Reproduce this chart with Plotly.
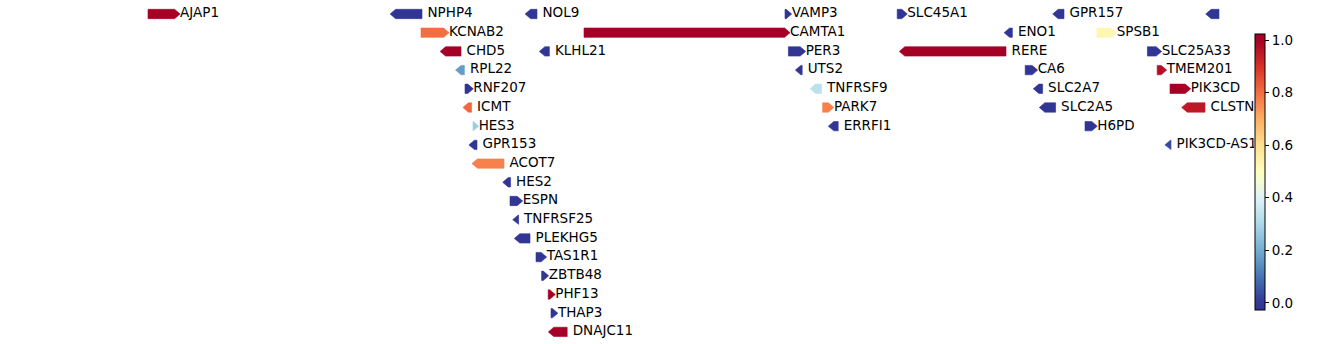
import numpy as np
import plotly.graph_objects as go
from plotly.colors import sample_colorscale

# ---- data (gene positions in kb, strand, track row, colour value) ----
genes = ["AJAP1", "NPHP4", "NOL9", "VAMP3", "SLC45A1", "GPR157", "CTNNBIP1",
         "KCNAB2", "CAMTA1", "ENO1", "SPSB1",
         "CHD5", "KLHL21", "PER3", "RERE", "SLC25A33",
         "RPL22", "UTS2", "CA6", "TMEM201",
         "RNF207", "TNFRSF9", "SLC2A7", "PIK3CD",
         "ICMT", "PARK7", "SLC2A5", "CLSTN1",
         "HES3", "ERRFI1", "H6PD",
         "GPR153", "PIK3CD-AS1",
         "ACOT7", "HES2", "ESPN", "TNFRSF25", "PLEKHG5", "TAS1R1",
         "ZBTB48", "PHF13", "THAP3", "DNAJC11"]
starts = [4654, 5892, 6567, 7839, 8400, 9205, 9970,
          6019, 6834, 8962, 9398,
          6142, 6638, 7856, 8438, 9651,
          6219, 7918, 9040, 9700,
          6239, 7992, 9108, 9764,
          6256, 8027, 9138, 9850,
          6279, 8083, 9339,
          6286, 9766,
          6301, 6455, 6464, 6505, 6513, 6594,
          6622, 6655, 6669, 6683]
ends = [4787, 6024, 6599, 7845, 8423, 9234, 10009,
        6132, 7837, 8976, 9470,
        6219, 6661, 7915, 8944, 9695,
        6236, 7925, 9075, 9720,
        6253, 8022, 9127, 9840,
        6272, 8056, 9192, 9939,
        6280, 8105, 9373,
        6299, 9769,
        6434, 6467, 6500, 6507, 6564, 6620,
        6630, 6663, 6676, 6750]
strands = ["+", "-", "-", "+", "+", "-", "-",
           "+", "+", "-", "+",
           "-", "-", "+", "-", "+",
           "-", "-", "+", "+",
           "+", "-", "-", "+",
           "-", "+", "-", "-",
           "+", "-", "+",
           "-", "-",
           "-", "-", "+", "-", "-", "+",
           "+", "+", "+", "-"]
rows = [0, 0, 0, 0, 0, 0, 0,
        1, 1, 1, 1,
        2, 2, 2, 2, 2,
        3, 3, 3, 3,
        4, 4, 4, 4,
        5, 5, 5, 5,
        6, 6, 6,
        7, 7,
        8, 9, 10, 11, 12, 13,
        14, 15, 16, 17]
values = [1.0, 0.0, 0.0, 0.0, 0.0, 0.0, 0.0,
          0.80, 1.0, 0.0, 0.53,
          1.0, 0.0, 0.0, 1.0, 0.0,
          0.17, 0.0, 0.0, 0.97,
          0.0, 0.33, 0.0, 1.0,
          0.81, 0.77, 0.0, 0.95,
          0.27, 0.0, 0.0,
          0.0, 0.03,
          0.77, 0.0, 0.0, 0.0, 0.0, 0.0,
          0.0, 1.0, 0.0, 1.0]
cbar_ticks = [0.0, 0.2, 0.4, 0.6, 0.8, 1.0]

# ---- styling ----
KB_PER_PX = 5.0
X0 = 3914.0
HEAD = 5.5 * KB_PER_PX       # arrow head length
LABEL_OFF = 5.5 * KB_PER_PX  # gap between gene end and its label
HALF_H = 0.25                # half arrow height (rows)
ROW_PX = 18.7
W, H = 1338, 344
PLOT_W = 1254
CMIN, CMAX = -0.027, 1.023
FONT = "DejaVu Sans, sans-serif"
CS = "RdYlBu_r"


def colour(v):
    return sample_colorscale(CS, [min(max(v, 0.0), 1.0)])[0]


fig = go.Figure()

for name, s, e, st, r, v in zip(genes, starts, ends, strands, rows, values):
    c = colour(v)
    if st == "+":
        xs = [s, e, e + HEAD, e, s, s]
    else:
        xs = [e, s, s - HEAD, s, e, e]
    ys = [r - HALF_H, r - HALF_H, r, r + HALF_H, r + HALF_H, r - HALF_H]
    fig.add_trace(go.Scatter(x=xs, y=ys, mode="lines", fill="toself",
                             fillcolor=c, line=dict(color=c, width=0.6),
                             hoverinfo="skip", showlegend=False))

xmax_data = max(ends)
lx, ly, lt = [], [], []
for name, e, r in zip(genes, ends, rows):
    if e + LABEL_OFF <= xmax_data:
        lx.append(e + LABEL_OFF)
        ly.append(r)
        lt.append(name)

fig.add_trace(go.Scatter(x=lx, y=ly, text=lt, mode="text",
                         textposition="middle right", cliponaxis=True,
                         textfont=dict(family=FONT, size=13.5, color="black"),
                         hoverinfo="skip", showlegend=False))

# colourbar (dummy trace)
pos = np.linspace(0, 1, 61)
cbar_scale = [[float(p), colour(CMIN + p * (CMAX - CMIN))] for p in pos]
fig.add_trace(go.Scatter(
    x=[None], y=[None], mode="markers", showlegend=False, hoverinfo="skip",
    marker=dict(color=[0.5], cmin=CMIN, cmax=CMAX, colorscale=cbar_scale,
                showscale=True,
                colorbar=dict(x=1255 / W, xanchor="left", xpad=0,
                              y=1 - 34 / H, yanchor="top", ypad=0,
                              len=276, lenmode="pixels",
                              thickness=10, thicknessmode="pixels",
                              outlinewidth=1, outlinecolor="black",
                              ticks="outside", ticklen=4, tickwidth=1,
                              tickcolor="black", tickvals=cbar_ticks,
                              ticktext=[f"{t:.1f}" for t in cbar_ticks],
                              tickfont=dict(family=FONT, size=13.5,
                                            color="black"))))
)

y_top = -14 / ROW_PX
y_bot = y_top + H / ROW_PX
fig.update_layout(
    width=W, height=H,
    margin=dict(l=0, r=0, t=0, b=0),
    paper_bgcolor="white", plot_bgcolor="white",
    xaxis=dict(domain=[0, PLOT_W / W], range=[X0, X0 + KB_PER_PX * PLOT_W],
               visible=False, fixedrange=True),
    yaxis=dict(range=[y_bot, y_top], visible=False, fixedrange=True),
)

fig.write_html("out.html")
